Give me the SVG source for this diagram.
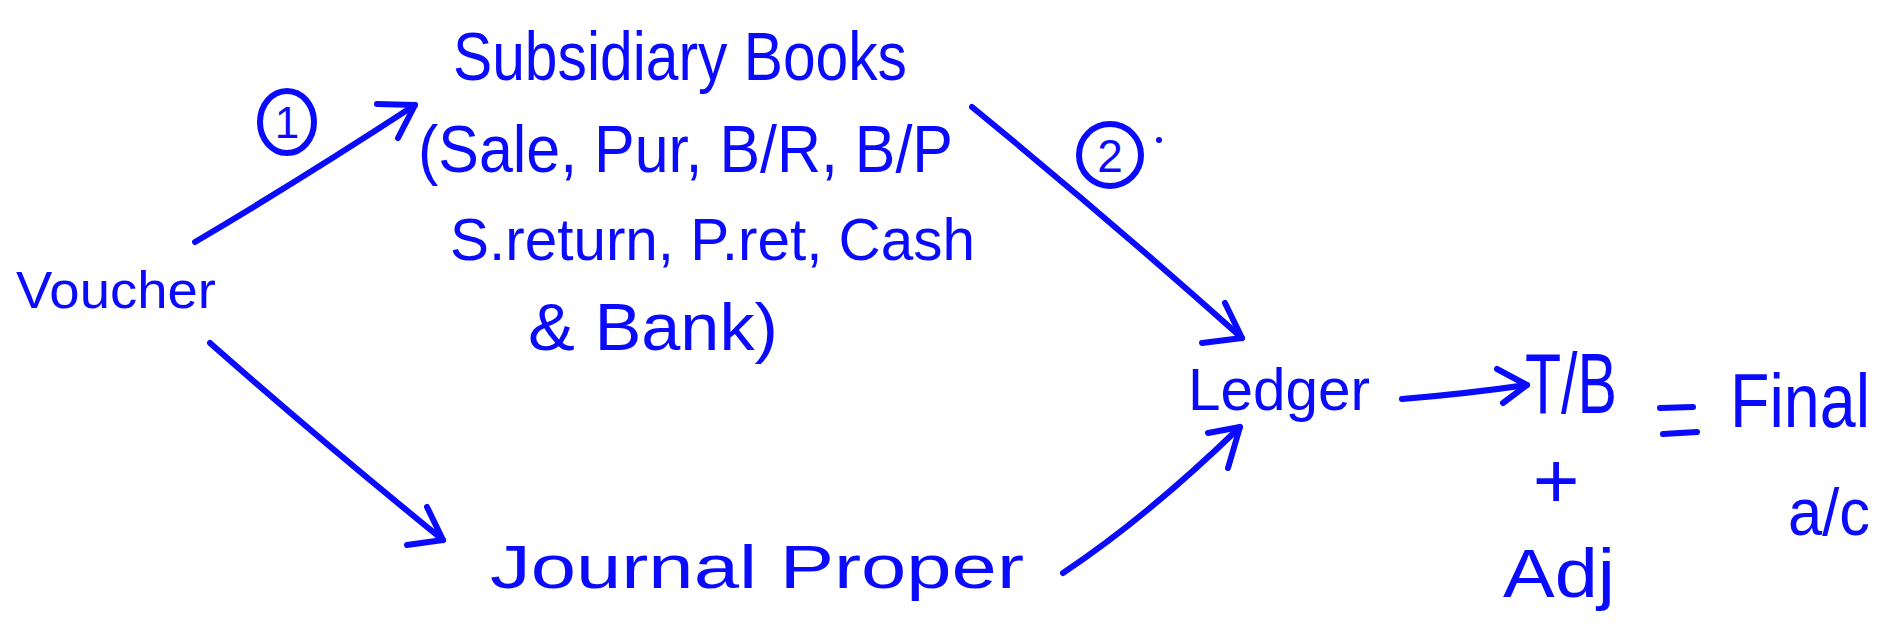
<svg xmlns="http://www.w3.org/2000/svg" width="1894" height="639" viewBox="0 0 1894 639">
<style>
.t{font-family:"Liberation Sans",Arial,sans-serif;fill:#0a0aff;}
.ln{fill:none;stroke:#0a0aff;stroke-width:6;stroke-linecap:round;stroke-linejoin:round;}
</style>
<rect width="1894" height="639" fill="#ffffff"/>
<g id="connectors">
<path class="ln" d="M195,242 Q300,180 415,105"/>
<path class="ln" d="M377,104 L415,105 L398,138"/>
<path class="ln" d="M210,343 Q320,440 443,540"/>
<path class="ln" d="M427,507 L443,540 L407,545"/>
<path class="ln" d="M972,107 Q1110,220 1242,338"/>
<path class="ln" d="M1225,303 L1242,338 L1202,343"/>
<path class="ln" d="M1063,573 C1120,535 1175,490 1240,427"/>
<path class="ln" d="M1208,433 L1240,427 L1228,468"/>
<path class="ln" d="M1402,399 Q1465,394 1527,385"/>
<path class="ln" d="M1497,369 L1527,385 L1503,403"/>
</g>
<g id="label1">
<ellipse class="ln" cx="287" cy="122" rx="27" ry="31"/>
<text class="t" x="287" y="138" font-size="44" text-anchor="middle">1</text>
</g>
<g id="label2">
<ellipse class="ln" cx="1110" cy="155" rx="31" ry="31"/>
<text class="t" x="1110" y="172" font-size="46" text-anchor="middle">2</text>
<circle cx="1159" cy="140" r="3" fill="#0a0aff"/>
</g>
<g id="voucher">
<text class="t" x="16" y="308" font-size="52" textLength="200" lengthAdjust="spacingAndGlyphs">Voucher</text>
</g>
<g id="subsidiary">
<text class="t" x="453" y="80" font-size="68" textLength="454" lengthAdjust="spacingAndGlyphs">Subsidiary Books</text>
<text class="t" x="418" y="172" font-size="66" textLength="535" lengthAdjust="spacingAndGlyphs">(Sale, Pur, B/R, B/P</text>
<text class="t" x="450" y="260" font-size="60" textLength="525" lengthAdjust="spacingAndGlyphs">S.return, P.ret, Cash</text>
<text class="t" x="528" y="350" font-size="66" textLength="250" lengthAdjust="spacingAndGlyphs">&amp; Bank)</text>
</g>
<g id="journal">
<text class="t" x="490" y="588" font-size="62" textLength="534" lengthAdjust="spacingAndGlyphs">Journal Proper</text>
</g>
<g id="ledger">
<text class="t" x="1188" y="410" font-size="60" textLength="182" lengthAdjust="spacingAndGlyphs">Ledger</text>
</g>
<g id="tb">
<text class="t" x="1525" y="413" font-size="86" textLength="92" lengthAdjust="spacingAndGlyphs">T/B</text>
<text class="t" x="1556" y="508" font-size="80" text-anchor="middle">+</text>
<text class="t" x="1503" y="597" font-size="68" textLength="112" lengthAdjust="spacingAndGlyphs">Adj</text>
</g>
<g id="final">
<line class="ln" x1="1660" y1="408" x2="1693" y2="407"/>
<line class="ln" x1="1663" y1="434" x2="1697" y2="432"/>
<text class="t" x="1730" y="427" font-size="76" textLength="140" lengthAdjust="spacingAndGlyphs">Final</text>
<text class="t" x="1788" y="535" font-size="66" textLength="82" lengthAdjust="spacingAndGlyphs">a/c</text>
</g>
</svg>
